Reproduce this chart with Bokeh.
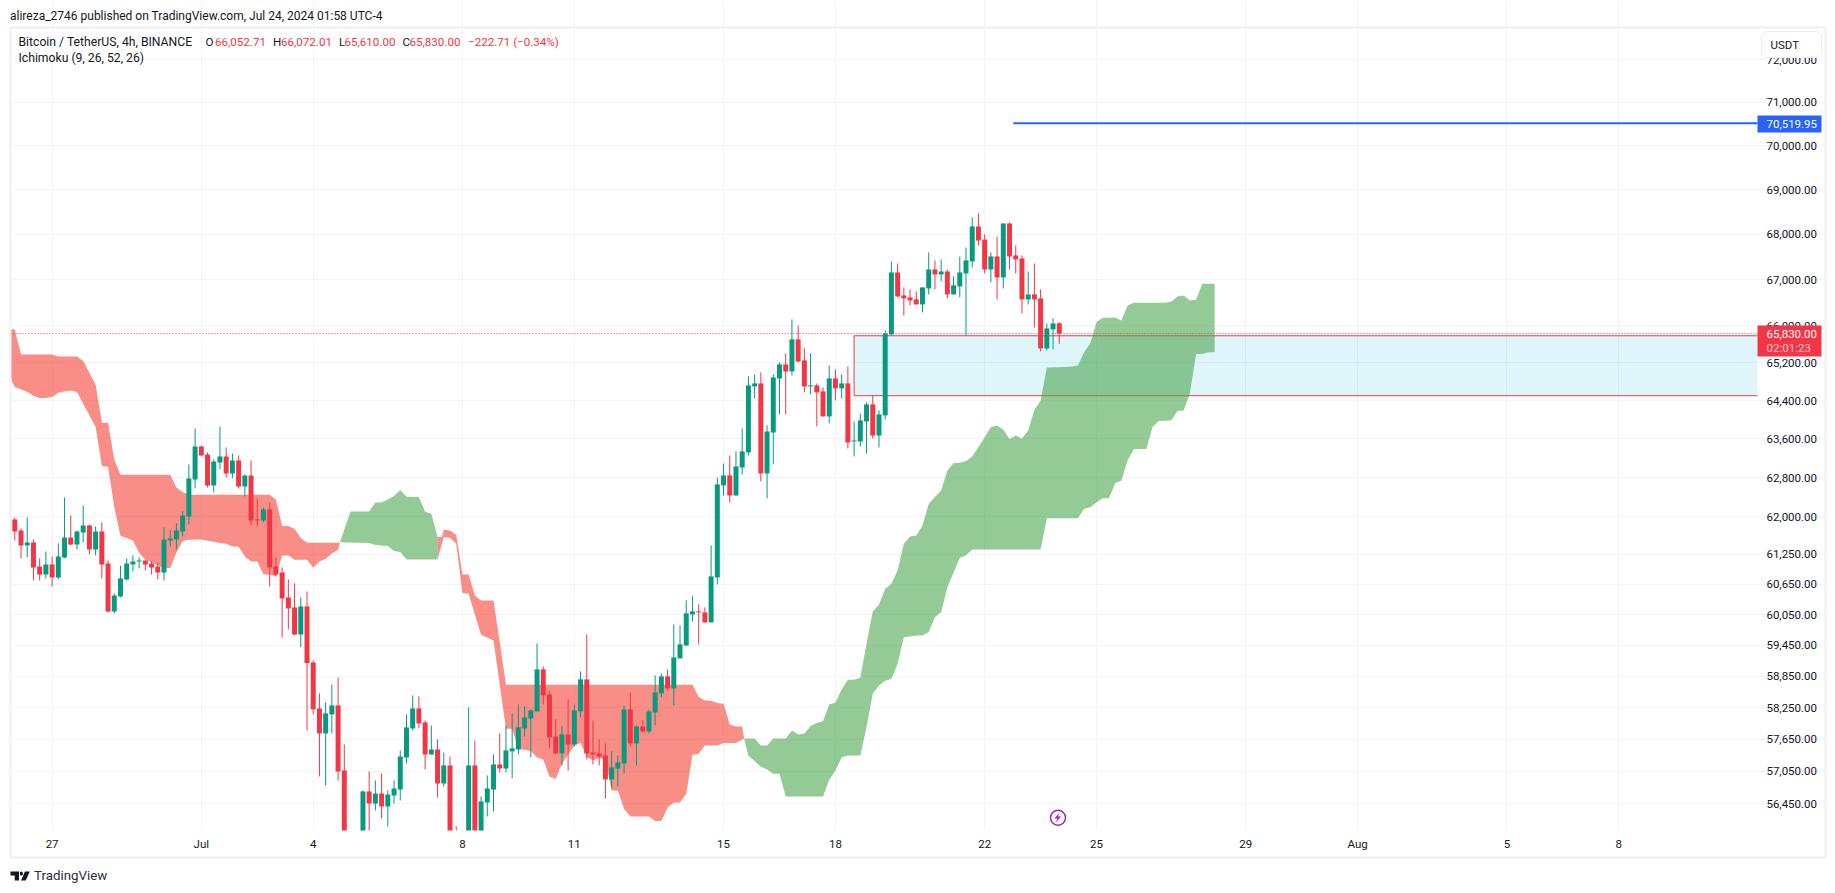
from bokeh.plotting import figure
from bokeh.embed import file_html
from bokeh.resources import INLINE
from bokeh.models import (Range1d, FixedTicker, NumeralTickFormatter, Label, BoxAnnotation, PolyAnnotation)

# ---- data -------------------------------------------------------------
opens = [61949,61726,61424,61484,61003,60844,61043,60785,61184,61584,61444,61685,61827,61344,61705,61063,60110,60407,60745,61043,
61104,61124,61063,61003,60884,61524,61544,61705,62010,62764,63445,63279,62641,63114,63238,62887,63155,62621,62846,61949,
61928,62152,61003,60884,60388,60191,59661,60210,59117,58235,57761,58121,58293,57066,55560,54900,55500,56675,56453,56637,
56398,56601,56712,57309,57856,58235,57969,57365,57459,56823,57160,55800,55300,55700,57160,55600,56472,56712,57178,57103,
57423,57460,57856,58046,58179,58983,58503,57705,57385,57742,57554,58179,58791,57404,57385,57348,56899,57103,57197,58217,
57573,57894,57799,58160,58522,58849,58618,59196,59448,60054,60113,60094,59897,60785,62641,62846,62436,63010,63321,64703,
64766,62887,63735,64872,65169,65020,65705,65255,64703,64724,64597,64071,64872,64661,64766,63548,63548,63966,64323,63672,
64092,65811,67160,66657,66613,66570,66461,66810,67225,67116,67181,66679,66854,67138,67402,68178,67889,67225,67512,67050,
68245,67534,67468,66570,66679,66592,65512,65919,66052.71]
highs = [61989,61766,61989,61544,61164,61304,61204,61464,62396,62030,61726,62233,61847,61807,61888,61124,60467,61023,61164,61224,
61184,61124,61104,61084,61786,61726,61868,62111,63072,63817,63466,63321,63176,63859,63424,63300,63258,62867,63155,62375,
62192,62294,61184,60983,60745,60666,60388,60507,59156,58521,58350,58693,58828,57553,55700,55800,56693,57047,56879,57010,
56693,56879,57440,58121,58483,58464,58007,57912,57648,57402,57327,56030,55900,58254,57629,56582,56973,57365,57761,57913,
58141,58312,58274,58217,59487,59041,58561,58027,57894,58407,58312,58945,59661,58008,57648,57573,57423,57348,58293,58542,
57913,58008,58217,58868,58906,58983,59858,59838,60330,60409,60251,60192,61424,62798,63093,63258,63341,63819,64915,64957,
64999,63882,64957,65212,65405,66136,66006,65512,65405,64766,64682,65148,65063,64957,65127,63966,64134,64365,64506,64197,
65898,67402,67357,66832,66788,66745,66832,67601,67424,67446,67225,67072,67512,67711,68379,68468,68000,67601,67955,68245,
68267,67756,67534,67181,67357,66788,66049,66158,66072.01]
lows = [61524,61164,61184,60725,60725,60765,60606,60745,61164,61424,61344,61484,61244,61224,60765,60090,60073,60388,60725,60904,
60964,60924,60844,60745,60725,61404,61344,61604,61847,62580,63238,62600,62498,62969,62805,62785,62580,62416,61827,61807,
61888,60606,60805,59600,59759,59641,59415,57818,58121,56954,56786,57761,56879,55400,54700,54600,55300,55800,56324,56177,
56030,56453,56509,57197,57818,57856,57085,57365,56564,56767,55600,55000,55100,55500,55300,55400,56214,56306,57029,57029,
56918,57366,57705,57310,58179,58312,57479,57366,57159,57066,57517,58065,57272,57178,57159,56546,56732,56769,57010,57517,
57159,57780,57761,57913,58446,58580,58293,59196,59429,59917,59467,59897,59897,60646,62436,62293,62436,62867,63259,64449,
62723,62375,63072,64113,64113,64936,65212,64576,64534,63861,64071,63924,64407,64449,63403,63238,63445,63300,63610,63424,
64008,65811,66613,66223,66440,66461,66288,66679,66788,66963,66592,66679,66613,65789,67269,67756,67138,66941,66570,66810,
67225,67138,66266,66461,65962,65449,65469,65490,65610]
closes = [61705,61424,61484,60983,60844,61043,60785,61204,61584,61444,61705,61827,61344,61705,61043,60110,60427,60765,61063,61104,
61124,61043,60983,60884,61544,61564,61726,62030,62785,63445,63258,62641,63134,63238,62887,63155,62621,62846,61928,61928,
62152,60983,60844,60368,60171,59661,60210,59104,58217,57761,58140,58293,57047,55560,54900,55500,56675,56453,56637,56398,
56619,56730,57327,57875,58235,57950,57365,57459,56823,57160,55800,55300,55700,57160,55600,56490,56730,57178,57103,57441,
57479,57875,58065,58198,58983,58484,57686,57385,57742,57554,58198,58791,57385,57366,57329,56899,57122,57216,58217,57573,
57894,57799,58179,58542,58849,58618,59215,59467,60074,60113,60094,59897,60805,62662,62846,62436,63031,63341,64724,64766,
62887,63756,64893,65169,65020,65705,65233,64703,64724,64576,64071,64872,64661,64766,63528,63569,63987,64323,63672,64113,
65833,67160,66635,66592,66548,66461,66832,67225,67116,67181,66679,66876,67160,67424,68178,67866,67225,67512,67050,68245,
67512,67446,66570,66679,66570,65512,65941,66049,65830]

red1_top_x = [-1,0,1,6,7,10,11,13,14,15,16,17,25,26,27,28,41,42,43,44,45,46,47,52,52.3]
red1_top = [65920,65920,65383,65383,65340,65340,65240,64738,63938,63938,63176,62860,62860,62600,62505,62450,62450,62354,61813,61813,61753,61571,61478,61478,61490]
red1_bot_x = [-1,0,1,2,3,4,5,6,7,8,9,10,13,14,15,16,17,18,19,20,21,24,25,26,27,28,30,33,34,35,36,37,38,39,40,41,42,43,44,45,47,48,49,50,51,52,52.3]
red1_bot = [64957,64689,64640,64583,64506,64456,64456,64478,64570,64597,64618,64583,63847,63038,63024,62199,61618,61571,61524,61277,61137,60970,60970,61284,61511,61538,61544,61471,61458,61404,61397,61204,61104,61104,60844,60844,60805,61224,61224,61137,61137,60977,61104,61157,61264,61337,61490]
green1_top_x = [52.3,54,57,58,59,60,61,62,63,65,66,67,68]
green1_top = [61490,62111,62111,62294,62294,62354,62423,62546,62409,62402,62104,62064,61591]
green1_bot_x = [52.3,57,58,60,61,62,63,68]
green1_bot = [61490,61471,61431,61411,61310,61291,61144,61144]
red2_top_x = [68,68.7,69,70,71,72,73,74,75,77,78,79,109,110,111,112,113,114,115,116,117,117.3]
red2_top = [61591,61591,61739,61726,61638,60844,60844,60427,60328,60330,59512,58689,58689,58452,58388,58382,58337,58325,57932,57894,57894,57667]
red2_bot_x = [68,69,70,71,72,73,74,75,77,79,80,81,83,84,85,86,87,88,89,90,91,92,93,94,95,96,97,98,99,102,103,104,105,106,107,108,109,110,111,113,114,116,117.3]
red2_bot = [61144,61591,61578,61458,60474,60460,60053,59655,59545,57850,57850,57473,57429,57310,57272,56955,56905,57191,57360,57536,57586,57316,57254,57304,57254,56695,56695,56350,56215,56215,56130,56130,56380,56472,56472,56633,57360,57379,57536,57536,57580,57580,57667]
green2_top_x = [117.3,119,120,121,122,124,125,126,127,128,129,130,131,132,133,134,135,136,137,138,139,140,141,142,143,144,145,146,147,148,149,150,151,152,153,154,155,156,157,158,159,160,161,162,163,164,165,166,169,170,171,172,173,174,175,176,177,178,179,180,185,186,187,188,189,190,191,193]
green2_top = [57667,57667,57536,57536,57667,57667,57818,57742,57761,57900,57957,57995,58312,58350,58599,58785,58785,58823,59480,60113,60251,60561,60660,60924,61458,61605,61625,61827,62266,62402,62539,62949,63100,63107,63141,63238,63431,63638,63847,63882,63791,63597,63672,63610,63777,64211,64400,65105,65113,65127,65148,65430,65625,66078,66172,66172,66180,66114,66440,66498,66498,66519,66635,66657,66548,66562,66912,66912]
green2_bot_x = [117.3,118,119,120,121,122,123,124,130,131,132,133,134,136,137,138,139,140,141,142,143,144,145,146,147,148,149,150,151,152,153,154,165,166,171,172,173,174,175,176,177,178,179,180,182,183,184,186,187,188,189,190,191,192,193]
green2_bot = [57667,57341,57241,57134,57085,57004,57004,56583,56583,56893,57066,57310,57348,57348,57881,58516,58676,58766,58804,59093,59609,59622,59642,59642,59707,60000,60097,60589,60883,61178,61225,61342,61342,61973,61973,62163,62197,62299,62381,62381,62688,62743,63158,63390,63390,63847,63973,63987,64183,64197,64547,65391,65391,65430,65430]

price_ticks = [72000,71000,70000,69000,68000,67000,66000,65200,64400,63600,62800,62000,61250,60650,60050,59450,58850,58250,57650,57050,56450]
time_ticks = [6,30,48,72,90,114,132,156,174,198,216,240,258]
time_labels = ["27","Jul","4","8","11","15","18","22","25","29","Aug","5","8"]

zone_left, zone_top, zone_bottom = 135, 65783, 64506
target_x, target_price = [160.6], [70519.95]
last_price = [65830]
event_x, event_y = [167.8], [56190]

# the price pane inside the page-sized frame
PANE_X0, PANE_X1, PANE_Y0, PANE_Y1 = -0.69, 280.3, 55956, 72761

RED, GREEN, INK = "#F23645", "#089981", "#131722"
FONT = "Roboto"

# ---- figure: the frame fills the canvas, axes sit at fixed locations ----
W, H = 1828, 885
p = figure(width=W, height=H, output_backend="svg", toolbar_location=None,
           x_range=Range1d(-2.300, 291.73), y_range=Range1d(54959, 73406), y_axis_type="log",
           y_axis_location="right", min_border=0)
p.outline_line_color = None
p.background_fill_color = "#FFFFFF"

ya = p.yaxis[0]
ya.ticker = FixedTicker(ticks=price_ticks)
ya.formatter = NumeralTickFormatter(format="0,0.00")
ya.fixed_location = PANE_X1
xa = p.xaxis[0]
xa.ticker = FixedTicker(ticks=time_ticks)
xa.major_label_overrides = dict(zip(time_ticks, time_labels))
xa.fixed_location = PANE_Y0
for a, st in ((ya, 9), (xa, 6)):
    a.axis_line_color = None
    a.major_tick_line_color = None
    a.minor_tick_line_color = None
    a.major_tick_out = 0
    a.major_tick_in = 0
    a.major_label_text_font = FONT
    a.major_label_text_font_size = "11.5px"
    a.major_label_text_color = INK
    a.major_label_standoff = st
p.xgrid.grid_line_color = "#F0F3FA"
p.ygrid.grid_line_color = "#F0F3FA"
p.xgrid.bounds = (PANE_Y0, PANE_Y1)
p.ygrid.bounds = (PANE_X0, PANE_X1)
p.ygrid.minor_grid_line_color = None

# zone (open on its right side) and target line
p.quad(left=[zone_left], right=[PANE_X1], top=[zone_top], bottom=[zone_bottom], fill_color="#00BCD4",
       fill_alpha=0.13, line_color=None)
p.line([PANE_X1, zone_left, zone_left, PANE_X1], [zone_top, zone_top, zone_bottom, zone_bottom],
       line_color=RED, line_width=1)
p.segment(x0=target_x, x1=[PANE_X1], y0=target_price, y1=target_price, line_color="#2962FF", line_width=2)

# ichimoku cloud
for tx, ty, bx, by, col in (
    (red1_top_x, red1_top, red1_bot_x, red1_bot, "#F44336"),
    (green1_top_x, green1_top, green1_bot_x, green1_bot, "#4CA650"),
    (red2_top_x, red2_top, red2_bot_x, red2_bot, "#F44336"),
    (green2_top_x, green2_top, green2_bot_x, green2_bot, "#4CA650"),
):
    p.patch(tx + bx[::-1], ty + by[::-1], fill_color=col, fill_alpha=0.6, line_color=None)

p.segment(x0=[PANE_X0], x1=[PANE_X1], y0=last_price, y1=last_price, line_color=RED, line_width=1, line_dash="1 2")

# candles
idx = list(range(len(opens)))
colors = [GREEN if c >= o else RED for o, c in zip(opens, closes)]
p.segment(x0=idx, x1=idx, y0=lows, y1=highs, line_color=colors, line_width=1)
p.vbar(x=idx, width=0.8, top=[max(a, b) for a, b in zip(opens, closes)],
       bottom=[min(a, b) for a, b in zip(opens, closes)], fill_color=colors, line_color=None)

# event marker
p.scatter(event_x, event_y, size=15, marker="circle", fill_color="#FFFFFF", line_color="#9C27B0", line_width=1.5)

# white strips that trim marks to the price pane
p.quad(left=[-2.3], right=[PANE_X1], top=[PANE_Y0], bottom=[54959], fill_color="#FFFFFF", line_color=None)
p.quad(left=[-2.3], right=[PANE_X0], top=[73406], bottom=[54959], fill_color="#FFFFFF", line_color=None)

def txt(x, y, s, size="12px", color=INK, font=FONT, **kw):
    p.add_layout(Label(x=x, y=y, x_units="canvas", y_units="canvas", text=s, text_font=font,
                       text_font_size=size, text_color=color, text_baseline="middle", **kw))

def box(l, r, t, b, **kw):
    p.add_layout(BoxAnnotation(left=l, right=r, top=t, bottom=b, left_units="canvas", right_units="canvas",
                               top_units="canvas", bottom_units="canvas", line_alpha=1, **kw))

def poly(pts, color):
    p.add_layout(PolyAnnotation(xs=[a for a, _ in pts], ys=[b for _, b in pts], xs_units="canvas",
                                ys_units="canvas", fill_color=color, fill_alpha=1, line_color=None))

poly([(1059, 812), (1054, 818), (1057, 818), (1055, 822.5), (1060.5, 816), (1057.5, 816)], "#9C27B0")

# outer frame
box(10, 1825, 27, 857, fill_color=None, line_color="#EEF0F6", line_width=2)

# price tags
box(1757, 1821, 115, 132, fill_color="#2962FF", fill_alpha=1, line_color=None)
txt(1766, 123.5, "70,519.95", "11.5px", "#FFFFFF")
box(1757, 1821, 325, 356, fill_color=RED, fill_alpha=1, line_color=None)
txt(1766, 333, "65,830.00", "11.5px", "#FFFFFF")
txt(1766, 347, "02:01:23", "11.5px", "#FBC3C8")

# currency button
box(1761, 1821, 31, 57, fill_color="#FFFFFF", fill_alpha=1, line_color="#E8EAF2", line_width=1, border_radius=5)
txt(1770, 44, "USDT", "11.5px")

# header and legend
txt(9.5, 15, "alireza_2746 published on TradingView.com, Jul 24, 2024 01:58 UTC-4", "12px")
txt(18, 41, "Bitcoin / TetherUS, 4h, BINANCE", "12.2px")
txt(18, 57, "Ichimoku (9, 26, 52, 26)", "12.2px")
for x, s, c in ((205, "O", INK), (214.5, "66,052.71", RED), (272.5, "H", INK), (280.5, "66,072.01", RED),
                (338.5, "L", INK), (344, "65,610.00", RED), (402, "C", INK), (409, "65,830.00", RED),
                (467.5, "\u2212222.71 (\u22120.34%)", RED)):
    txt(x, 41, s, "11.6px", c)

# logo
poly([(10, 871), (18.5, 871), (18.5, 880), (14.2, 880), (14.2, 875), (10, 875)], INK)
box(19.3, 22.3, 871, 875, fill_color=INK, fill_alpha=1, line_color=None, border_radius=2)
poly([(24.5, 871), (29.3, 871), (25.2, 880), (20.5, 880)], INK)
txt(33.5, 875, "TradingView", "13.3px", "#2A2E39")

open("out.html", "w").write(file_html(p, INLINE))
